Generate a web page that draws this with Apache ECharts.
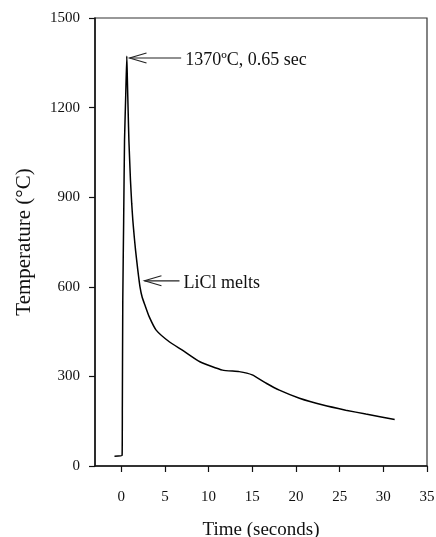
<!DOCTYPE html>
<html><head><meta charset="utf-8">
<script src="https://cdn.jsdelivr.net/npm/echarts@6/dist/echarts.min.js"></script>
<style>html,body{margin:0;padding:0;background:#fff}#c{width:436px;height:537px}</style>
</head><body><div id="c"></div>
<script>
const timeSec = [-0.77, 0.1, 0.13, 0.18, 0.28, 0.38, 0.52, 0.64, 0.7, 0.8, 0.88, 1.06, 1.2, 1.33, 1.5, 1.64, 1.9, 2.15, 2.4, 2.7, 3.2, 4.0, 5.5, 7.0, 9.0, 11.6, 13.5, 15.0, 16.6, 18.1, 20.4, 23.1, 25.7, 28.0, 31.3];
const tempC   = [33, 35, 200, 556, 820, 1091, 1245, 1372, 1300, 1180, 1090, 957, 880, 823, 765, 723, 656, 600, 565, 540, 500, 455, 416, 388, 349, 321, 316, 305, 277, 254, 227, 204, 187, 174, 156];
const xTicks = [0, 5, 10, 15, 20, 25, 30, 35];
const annoTipX = [0.95, 2.66];
const annoTipY = [1366, 620];
const annoEndX = [6.86, 6.67];
const annoText = ['1370ºC, 0.65 sec', 'LiCl melts'];

const FONT = '"Liberation Serif", "Times New Roman", serif';
const chart = echarts.init(document.getElementById('c'));
const lineData = timeSec.map((t, i) => [t, tempC[i]]);
const annoData = annoTipX.map((x, i) => [x, annoTipY[i], annoEndX[i]]);

chart.setOption({
  animation: false,
  backgroundColor: '#fff',
  grid: { left: 95, right: 9, top: 18, bottom: 71, show: true, borderColor: '#333', borderWidth: 1.2,
          containLabel: false, outerBoundsMode: 'none' },
  xAxis: {
    type: 'value', min: -3, max: 35,
    name: 'Time (seconds)', nameLocation: 'middle', nameGap: 55,
    nameTextStyle: { fontFamily: FONT, fontSize: 19, color: '#111' },
    axisLine: { show: true, onZero: false, lineStyle: { color: '#111', width: 1.5 } },
    axisTick: { show: true, inside: false, length: 6, customValues: xTicks, lineStyle: { color: '#111', width: 1.2 } },
    axisLabel: { customValues: xTicks, margin: 24, fontFamily: FONT, fontSize: 15, color: '#111', formatter: v => String(v) },
    splitLine: { show: false }
  },
  yAxis: {
    type: 'value', min: 0, max: 1500, interval: 300,
    name: 'Temperature (°C)', nameLocation: 'middle', nameGap: 60,
    nameTextStyle: { fontFamily: FONT, fontSize: 21, color: '#111' },
    axisLine: { show: true, onZero: false, lineStyle: { color: '#111', width: 1.5 } },
    axisTick: { show: true, inside: false, length: 6, lineStyle: { color: '#111', width: 1.2 } },
    axisLabel: { margin: 15, fontFamily: FONT, fontSize: 15, color: '#111', formatter: v => String(v) },
    splitLine: { show: false }
  },
  series: [
    {
      type: 'line', data: lineData, showSymbol: false, smooth: 0.15,
      lineStyle: { color: '#000', width: 1.5 }
    },
    {
      type: 'custom', data: annoData, clip: false, silent: true,
      renderItem: function (params, api) {
        const tip = api.coord([api.value(0), api.value(1)]);
        const end = api.coord([api.value(2), api.value(1)]);
        const L = 17, H = 5;
        const st = { stroke: '#222', lineWidth: 1.1, fill: null };
        return {
          type: 'group',
          children: [
            { type: 'line', shape: { x1: tip[0], y1: tip[1], x2: end[0], y2: end[1] }, style: st },
            { type: 'polyline', shape: { points: [[tip[0] + L, tip[1] - H], [tip[0], tip[1]], [tip[0] + L, tip[1] + H]] }, style: st },
            { type: 'text', x: end[0] + 4, y: tip[1] + 2,
              style: { text: annoText[params.dataIndex], fontFamily: FONT, fontSize: 18, fill: '#111', verticalAlign: 'middle', align: 'left' } }
          ]
        };
      }
    }
  ]
});
</script>
</body></html>
